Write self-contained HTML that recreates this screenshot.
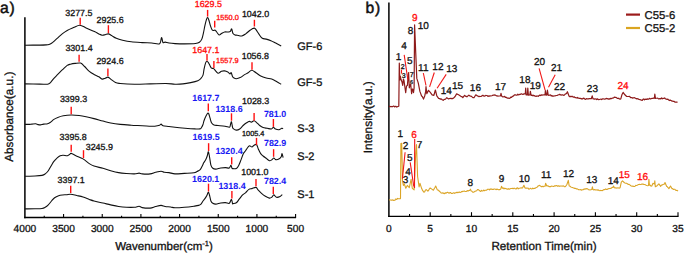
<!DOCTYPE html>
<html><head><meta charset="utf-8"><style>
html,body{margin:0;padding:0;background:#fff;}
svg{display:block;}
text{font-family:"Liberation Sans", sans-serif;text-rendering:geometricPrecision;}
</style></head><body>
<svg width="685" height="254" viewBox="0 0 685 254" font-family='"Liberation Sans", sans-serif' fill="#111" stroke="#111" stroke-width="0.3">
<line x1="24.9" y1="17.3" x2="24.9" y2="218.2" stroke="#000" stroke-width="1.5"/>
<line x1="24.2" y1="217.5" x2="296.09" y2="217.5" stroke="#000" stroke-width="1.4"/>
<line x1="44.23" y1="217.5" x2="44.23" y2="215.7" stroke="#000" stroke-width="1.1"/>
<line x1="63.57" y1="217.5" x2="63.57" y2="214.1" stroke="#000" stroke-width="1.1"/>
<line x1="82.91" y1="217.5" x2="82.91" y2="215.7" stroke="#000" stroke-width="1.1"/>
<line x1="102.24" y1="217.5" x2="102.24" y2="214.1" stroke="#000" stroke-width="1.1"/>
<line x1="121.58" y1="217.5" x2="121.58" y2="215.7" stroke="#000" stroke-width="1.1"/>
<line x1="140.91" y1="217.5" x2="140.91" y2="214.1" stroke="#000" stroke-width="1.1"/>
<line x1="160.25" y1="217.5" x2="160.25" y2="215.7" stroke="#000" stroke-width="1.1"/>
<line x1="179.58" y1="217.5" x2="179.58" y2="214.1" stroke="#000" stroke-width="1.1"/>
<line x1="198.92" y1="217.5" x2="198.92" y2="215.7" stroke="#000" stroke-width="1.1"/>
<line x1="218.25" y1="217.5" x2="218.25" y2="214.1" stroke="#000" stroke-width="1.1"/>
<line x1="237.59" y1="217.5" x2="237.59" y2="215.7" stroke="#000" stroke-width="1.1"/>
<line x1="256.92" y1="217.5" x2="256.92" y2="214.1" stroke="#000" stroke-width="1.1"/>
<line x1="276.25" y1="217.5" x2="276.25" y2="215.7" stroke="#000" stroke-width="1.1"/>
<line x1="295.59" y1="217.5" x2="295.59" y2="214.1" stroke="#000" stroke-width="1.1"/>
<text x="24.90" y="232" font-size="10.2" text-anchor="middle">4000</text>
<text x="63.57" y="232" font-size="10.2" text-anchor="middle">3500</text>
<text x="102.24" y="232" font-size="10.2" text-anchor="middle">3000</text>
<text x="140.91" y="232" font-size="10.2" text-anchor="middle">2500</text>
<text x="179.58" y="232" font-size="10.2" text-anchor="middle">2000</text>
<text x="218.25" y="232" font-size="10.2" text-anchor="middle">1500</text>
<text x="256.92" y="232" font-size="10.2" text-anchor="middle">1000</text>
<text x="295.59" y="232" font-size="10.2" text-anchor="middle">500</text>
<text x="164" y="250.1" font-size="11.5" text-anchor="middle">Wavenumber(cm<tspan font-size="7.5" dy="-3.8">-1</tspan><tspan dy="3.8">)</tspan></text>
<text transform="translate(12.9,116.75) rotate(-90)" font-size="11.75" text-anchor="middle">Absorbance(a.u.)</text>
<text x="0" y="13" font-size="15.7" stroke-width="0.5" letter-spacing="0.8">a)</text>
<path d="M25.00,45.20 C27.50,45.18 36.50,45.15 40.00,45.10 C43.50,45.05 44.50,45.00 46.00,44.90 C47.50,44.80 48.08,44.77 49.00,44.50 C49.92,44.23 50.58,43.92 51.50,43.30 C52.42,42.68 53.45,41.72 54.50,40.80 C55.55,39.88 56.47,39.00 57.80,37.80 C59.13,36.60 60.93,34.83 62.50,33.60 C64.07,32.37 65.37,31.40 67.20,30.40 C69.03,29.40 71.40,28.47 73.50,27.60 C75.60,26.73 77.70,25.15 79.80,25.20 C81.90,25.25 84.00,26.98 86.10,27.90 C88.20,28.82 90.92,30.05 92.40,30.70 C93.88,31.35 93.92,31.27 95.00,31.80 C96.08,32.33 97.72,33.33 98.90,33.90 C100.08,34.47 101.05,35.07 102.10,35.20 C103.15,35.33 104.15,34.92 105.20,34.70 C106.25,34.48 107.35,33.77 108.40,33.90 C109.45,34.03 110.18,34.77 111.50,35.50 C112.82,36.23 114.45,37.52 116.30,38.30 C118.15,39.08 120.12,39.62 122.60,40.20 C125.08,40.78 127.93,41.40 131.20,41.80 C134.47,42.20 138.78,42.40 142.20,42.60 C145.62,42.80 148.80,42.82 151.70,43.00 C154.60,43.18 157.97,44.62 159.60,43.70 C161.23,42.78 160.93,37.68 161.50,37.50 C162.07,37.32 162.40,41.83 163.00,42.60 C163.60,43.37 164.10,42.03 165.10,42.10 C166.10,42.17 167.35,42.75 169.00,43.00 C170.65,43.25 172.43,43.45 175.00,43.60 C177.57,43.75 180.98,43.92 184.40,43.90 C187.82,43.88 193.00,43.77 195.50,43.50 C198.00,43.23 198.35,43.03 199.40,42.30 C200.45,41.57 201.15,40.55 201.80,39.10 C202.45,37.65 202.78,35.83 203.30,33.60 C203.82,31.37 204.37,28.07 204.90,25.70 C205.43,23.33 206.05,20.75 206.50,19.40 C206.95,18.05 207.20,17.47 207.60,17.60 C208.00,17.73 208.43,18.85 208.90,20.20 C209.37,21.55 209.88,24.12 210.40,25.70 C210.92,27.28 211.47,28.90 212.00,29.70 C212.53,30.50 213.07,30.42 213.60,30.50 C214.13,30.58 214.68,29.95 215.20,30.20 C215.72,30.45 216.05,31.22 216.70,32.00 C217.35,32.78 218.30,34.63 219.10,34.90 C219.90,35.17 220.58,34.08 221.50,33.60 C222.42,33.12 223.43,32.27 224.60,32.00 C225.77,31.73 227.53,32.12 228.50,32.00 C229.47,31.88 229.87,31.82 230.40,31.30 C230.93,30.78 231.27,28.52 231.70,28.90 C232.13,29.28 232.45,32.60 233.00,33.60 C233.55,34.60 234.32,34.63 235.00,34.90 C235.68,35.17 235.97,35.02 237.10,35.20 C238.23,35.38 240.37,36.22 241.80,36.00 C243.23,35.78 244.38,34.82 245.70,33.90 C247.02,32.98 248.65,31.33 249.70,30.50 C250.75,29.67 251.22,29.30 252.00,28.90 C252.78,28.50 253.73,27.97 254.40,28.10 C255.07,28.23 255.22,28.65 256.00,29.70 C256.78,30.75 258.05,32.97 259.10,34.40 C260.15,35.83 261.12,37.52 262.30,38.30 C263.48,39.08 264.77,38.70 266.20,39.10 C267.63,39.50 269.32,40.03 270.90,40.70 C272.48,41.37 273.98,42.23 275.70,43.10 C277.42,43.97 280.28,45.43 281.20,45.90" fill="none" stroke="#111" stroke-width="1.1" stroke-linejoin="round"/>
<path d="M25.00,83.90 C27.50,83.93 36.23,84.05 40.00,84.10 C43.77,84.15 45.82,84.50 47.60,84.20 C49.38,83.90 49.65,83.28 50.70,82.30 C51.75,81.32 52.72,79.62 53.90,78.30 C55.08,76.98 56.37,75.83 57.80,74.40 C59.23,72.97 60.93,71.20 62.50,69.70 C64.07,68.20 65.88,66.32 67.20,65.40 C68.52,64.48 69.08,64.53 70.40,64.20 C71.72,63.87 73.40,63.58 75.10,63.40 C76.80,63.22 79.02,62.58 80.60,63.10 C82.18,63.62 83.15,65.13 84.60,66.50 C86.05,67.87 87.73,69.98 89.30,71.30 C90.87,72.62 92.40,73.48 94.00,74.40 C95.60,75.32 97.55,76.02 98.90,76.80 C100.25,77.58 101.05,78.85 102.10,79.10 C103.15,79.35 104.23,78.63 105.20,78.30 C106.17,77.97 106.98,76.97 107.90,77.10 C108.82,77.23 109.43,78.18 110.70,79.10 C111.97,80.02 113.92,81.87 115.50,82.60 C117.08,83.33 117.05,83.23 120.20,83.50 C123.35,83.77 129.42,84.13 134.40,84.20 C139.38,84.27 144.85,84.02 150.10,83.90 C155.35,83.78 161.75,83.45 165.90,83.50 C170.05,83.55 172.17,84.13 175.00,84.20 C177.83,84.27 180.28,84.17 182.90,83.90 C185.52,83.63 188.22,83.13 190.70,82.60 C193.18,82.07 196.08,81.42 197.80,80.70 C199.52,79.98 200.13,79.22 201.00,78.30 C201.87,77.38 202.48,76.77 203.00,75.20 C203.52,73.63 203.65,71.00 204.10,68.90 C204.55,66.80 205.22,63.87 205.70,62.60 C206.18,61.33 206.55,61.30 207.00,61.30 C207.45,61.30 207.90,61.87 208.40,62.60 C208.90,63.33 209.48,64.78 210.00,65.70 C210.52,66.62 210.90,67.62 211.50,68.10 C212.10,68.58 212.85,68.07 213.60,68.60 C214.35,69.13 215.22,70.52 216.00,71.30 C216.78,72.08 217.38,73.30 218.30,73.30 C219.22,73.30 220.45,71.70 221.50,71.30 C222.55,70.90 223.55,70.78 224.60,70.90 C225.65,71.02 226.88,71.50 227.80,72.00 C228.72,72.50 229.53,73.80 230.10,73.90 C230.67,74.00 230.80,72.17 231.20,72.60 C231.60,73.03 232.03,75.60 232.50,76.50 C232.97,77.40 233.37,77.63 234.00,78.00 C234.63,78.37 235.27,78.77 236.30,78.70 C237.33,78.63 238.88,78.23 240.20,77.60 C241.52,76.97 242.88,75.70 244.20,74.90 C245.52,74.10 246.85,73.58 248.10,72.80 C249.35,72.02 250.38,70.20 251.70,70.20 C253.02,70.20 254.50,71.83 256.00,72.80 C257.50,73.77 259.00,75.13 260.70,76.00 C262.40,76.87 264.37,77.48 266.20,78.00 C268.03,78.52 269.98,78.52 271.70,79.10 C273.42,79.68 274.92,80.63 276.50,81.50 C278.08,82.37 280.42,83.83 281.20,84.30" fill="none" stroke="#111" stroke-width="1.1" stroke-linejoin="round"/>
<path d="M25.00,124.40 C25.73,124.40 28.23,124.45 29.40,124.40 C30.57,124.35 30.95,124.20 32.00,124.10 C33.05,124.00 34.70,123.72 35.70,123.80 C36.70,123.88 37.20,124.42 38.00,124.60 C38.80,124.78 39.57,124.98 40.50,124.90 C41.43,124.82 42.42,124.28 43.60,124.10 C44.78,123.92 46.42,124.13 47.60,123.80 C48.78,123.47 49.65,122.83 50.70,122.10 C51.75,121.37 52.72,120.18 53.90,119.40 C55.08,118.62 56.23,118.00 57.80,117.40 C59.37,116.80 61.07,116.20 63.30,115.80 C65.53,115.40 68.57,115.05 71.20,115.00 C73.83,114.95 76.62,115.22 79.10,115.50 C81.58,115.78 83.62,116.18 86.10,116.70 C88.58,117.22 91.20,117.88 94.00,118.60 C96.80,119.32 100.12,120.27 102.90,121.00 C105.68,121.73 107.82,122.43 110.70,123.00 C113.58,123.57 116.78,124.03 120.20,124.40 C123.62,124.77 127.53,124.98 131.20,125.20 C134.87,125.42 138.92,125.53 142.20,125.70 C145.48,125.87 148.80,126.12 150.90,126.20 C153.00,126.28 153.35,126.37 154.80,126.20 C156.25,126.03 158.55,125.55 159.60,125.20 C160.65,124.85 160.53,124.02 161.10,124.10 C161.67,124.18 161.68,125.30 163.00,125.70 C164.32,126.10 167.00,126.23 169.00,126.50 C171.00,126.77 172.33,127.02 175.00,127.30 C177.67,127.58 181.67,127.93 185.00,128.20 C188.33,128.47 192.50,128.78 195.00,128.90 C197.50,129.02 198.92,129.13 200.00,128.90 C201.08,128.67 201.00,128.23 201.50,127.50 C202.00,126.77 202.58,125.63 203.00,124.50 C203.42,123.37 203.50,122.12 204.00,120.70 C204.50,119.28 205.33,117.27 206.00,116.00 C206.67,114.73 207.50,113.35 208.00,113.10 C208.50,112.85 208.67,113.70 209.00,114.50 C209.33,115.30 209.58,116.53 210.00,117.90 C210.42,119.27 210.83,121.50 211.50,122.70 C212.17,123.90 212.92,124.63 214.00,125.10 C215.08,125.57 216.17,125.32 218.00,125.50 C219.83,125.68 223.08,125.92 225.00,126.20 C226.92,126.48 228.58,127.48 229.50,127.20 C230.42,126.92 230.18,125.42 230.50,124.50 C230.82,123.58 231.10,121.45 231.40,121.70 C231.70,121.95 232.03,124.90 232.30,126.00 C232.57,127.10 232.35,127.62 233.00,128.30 C233.65,128.98 235.08,129.98 236.20,130.10 C237.32,130.22 238.55,129.77 239.70,129.00 C240.85,128.23 241.95,126.53 243.10,125.50 C244.25,124.47 245.57,123.48 246.60,122.80 C247.63,122.12 248.50,121.52 249.30,121.40 C250.10,121.28 250.60,122.22 251.40,122.10 C252.20,121.98 253.18,120.58 254.10,120.70 C255.02,120.82 255.97,122.00 256.90,122.80 C257.83,123.60 258.67,124.70 259.70,125.50 C260.73,126.30 261.85,127.13 263.10,127.60 C264.35,128.07 265.82,128.07 267.20,128.30 C268.58,128.53 270.37,129.17 271.40,129.00 C272.43,128.83 272.72,127.30 273.40,127.30 C274.08,127.30 274.57,128.60 275.50,129.00 C276.43,129.40 277.97,129.82 279.00,129.70 C280.03,129.58 281.02,128.47 281.70,128.30 C282.38,128.13 282.87,128.63 283.10,128.70" fill="none" stroke="#111" stroke-width="1.1" stroke-linejoin="round"/>
<path d="M25.00,176.20 C26.67,176.17 32.17,176.13 35.00,176.00 C37.83,175.87 40.30,175.75 42.00,175.40 C43.70,175.05 44.15,174.68 45.20,173.90 C46.25,173.12 47.25,172.15 48.30,170.70 C49.35,169.25 50.57,166.77 51.50,165.20 C52.43,163.63 52.98,162.48 53.90,161.30 C54.82,160.12 55.95,159.03 57.00,158.10 C58.05,157.17 59.15,156.17 60.20,155.70 C61.25,155.23 62.13,155.30 63.30,155.30 C64.47,155.30 66.17,155.83 67.20,155.70 C68.23,155.57 68.83,154.88 69.50,154.50 C70.17,154.12 70.13,153.20 71.20,153.40 C72.27,153.60 73.93,154.78 75.90,155.70 C77.87,156.62 80.77,157.58 83.00,158.90 C85.23,160.22 87.47,162.42 89.30,163.60 C91.13,164.78 91.73,165.22 94.00,166.00 C96.27,166.78 100.12,167.52 102.90,168.30 C105.68,169.08 108.08,169.98 110.70,170.70 C113.32,171.42 115.97,172.13 118.60,172.60 C121.23,173.07 123.87,173.28 126.50,173.50 C129.13,173.72 132.30,173.97 134.40,173.90 C136.50,173.83 137.80,173.10 139.10,173.10 C140.40,173.10 140.37,173.77 142.20,173.90 C144.03,174.03 147.87,174.17 150.10,173.90 C152.33,173.63 153.77,172.75 155.60,172.30 C157.43,171.85 159.65,171.20 161.10,171.20 C162.55,171.20 162.98,172.07 164.30,172.30 C165.62,172.53 167.22,172.33 169.00,172.60 C170.78,172.87 172.43,173.77 175.00,173.90 C177.57,174.03 181.25,173.58 184.40,173.40 C187.55,173.22 191.80,173.12 193.90,172.80 C196.00,172.48 195.95,172.03 197.00,171.50 C198.05,170.97 199.27,170.65 200.20,169.60 C201.13,168.55 202.02,166.33 202.60,165.20 C203.18,164.07 203.18,163.72 203.70,162.80 C204.22,161.88 205.10,160.88 205.70,159.70 C206.30,158.52 206.85,157.02 207.30,155.70 C207.75,154.38 208.02,151.53 208.40,151.80 C208.78,152.07 209.18,155.07 209.60,157.30 C210.02,159.53 210.37,163.37 210.90,165.20 C211.43,167.03 211.97,167.65 212.80,168.30 C213.63,168.95 214.58,169.15 215.90,169.10 C217.22,169.05 219.12,168.25 220.70,168.00 C222.28,167.75 223.97,167.60 225.40,167.60 C226.83,167.60 228.38,168.40 229.30,168.00 C230.22,167.60 230.45,165.15 230.90,165.20 C231.35,165.25 231.63,167.73 232.00,168.30 C232.37,168.87 232.38,168.55 233.10,168.60 C233.82,168.65 235.37,169.13 236.30,168.60 C237.23,168.07 237.92,166.85 238.70,165.40 C239.48,163.95 240.22,161.87 241.00,159.90 C241.78,157.93 242.62,155.17 243.40,153.60 C244.18,152.03 244.92,151.60 245.70,150.50 C246.48,149.40 247.43,147.80 248.10,147.00 C248.77,146.20 249.05,145.70 249.70,145.70 C250.35,145.70 251.30,147.05 252.00,147.00 C252.70,146.95 253.15,145.82 253.90,145.40 C254.65,144.98 255.77,143.92 256.50,144.50 C257.23,145.08 257.60,147.38 258.30,148.90 C259.00,150.42 259.90,152.42 260.70,153.60 C261.50,154.78 262.18,155.22 263.10,156.00 C264.02,156.78 265.15,157.52 266.20,158.30 C267.25,159.08 268.48,160.43 269.40,160.70 C270.32,160.97 270.97,160.35 271.70,159.90 C272.43,159.45 273.13,158.05 273.80,158.00 C274.47,157.95 274.87,159.42 275.70,159.60 C276.53,159.78 277.88,159.57 278.80,159.10 C279.72,158.63 280.67,157.72 281.20,156.80 C281.73,155.88 281.68,153.47 282.00,153.60 C282.32,153.73 282.92,156.93 283.10,157.60" fill="none" stroke="#111" stroke-width="1.1" stroke-linejoin="round"/>
<path d="M25.00,208.90 C26.67,208.88 32.17,208.87 35.00,208.80 C37.83,208.73 40.30,208.75 42.00,208.50 C43.70,208.25 44.15,207.90 45.20,207.30 C46.25,206.70 47.25,205.95 48.30,204.90 C49.35,203.85 50.45,202.18 51.50,201.00 C52.55,199.82 53.42,198.67 54.60,197.80 C55.78,196.93 57.28,196.27 58.60,195.80 C59.92,195.33 61.18,195.18 62.50,195.00 C63.82,194.82 65.13,194.83 66.50,194.70 C67.87,194.57 69.00,194.07 70.70,194.20 C72.40,194.33 74.65,195.03 76.70,195.50 C78.75,195.97 80.90,196.35 83.00,197.00 C85.10,197.65 87.47,198.73 89.30,199.40 C91.13,200.07 91.73,200.40 94.00,201.00 C96.27,201.60 100.12,202.35 102.90,203.00 C105.68,203.65 108.08,204.32 110.70,204.90 C113.32,205.48 115.97,206.10 118.60,206.50 C121.23,206.90 123.87,207.17 126.50,207.30 C129.13,207.43 132.30,207.48 134.40,207.30 C136.50,207.12 137.80,206.15 139.10,206.20 C140.40,206.25 140.37,207.28 142.20,207.60 C144.03,207.92 147.87,208.28 150.10,208.10 C152.33,207.92 153.77,206.95 155.60,206.50 C157.43,206.05 159.52,205.40 161.10,205.40 C162.68,205.40 163.52,206.23 165.10,206.50 C166.68,206.77 168.95,206.78 170.60,207.00 C172.25,207.22 172.70,207.75 175.00,207.80 C177.30,207.85 181.25,207.57 184.40,207.30 C187.55,207.03 191.53,206.52 193.90,206.20 C196.27,205.88 197.42,205.75 198.60,205.40 C199.78,205.05 200.27,204.83 201.00,204.10 C201.73,203.37 202.35,201.92 203.00,201.00 C203.65,200.08 204.23,199.57 204.90,198.60 C205.57,197.63 206.42,196.30 207.00,195.20 C207.58,194.10 207.97,191.95 208.40,192.00 C208.83,192.05 209.18,194.00 209.60,195.50 C210.02,197.00 210.37,199.70 210.90,201.00 C211.43,202.30 211.97,202.78 212.80,203.30 C213.63,203.82 214.58,204.15 215.90,204.10 C217.22,204.05 219.12,203.25 220.70,203.00 C222.28,202.75 223.97,202.55 225.40,202.60 C226.83,202.65 228.30,203.87 229.30,203.30 C230.30,202.73 230.87,199.17 231.40,199.20 C231.93,199.23 232.22,202.77 232.50,203.50 C232.78,204.23 232.47,203.72 233.10,203.60 C233.73,203.48 235.25,203.58 236.30,202.80 C237.35,202.02 238.35,200.22 239.40,198.90 C240.45,197.58 241.55,195.95 242.60,194.90 C243.65,193.85 244.65,193.52 245.70,192.60 C246.75,191.68 247.85,190.07 248.90,189.40 C249.95,188.73 250.82,188.93 252.00,188.60 C253.18,188.27 254.95,187.13 256.00,187.40 C257.05,187.67 257.38,189.22 258.30,190.20 C259.22,191.18 260.32,192.30 261.50,193.30 C262.68,194.30 264.08,195.40 265.40,196.20 C266.72,197.00 268.35,197.92 269.40,198.10 C270.45,198.28 270.97,197.83 271.70,197.30 C272.43,196.77 273.00,194.90 273.80,194.90 C274.60,194.90 275.45,197.03 276.50,197.30 C277.55,197.57 279.13,196.95 280.10,196.50 C281.07,196.05 281.93,194.92 282.30,194.60" fill="none" stroke="#111" stroke-width="1.1" stroke-linejoin="round"/>
<line x1="80.2" y1="17.8" x2="80.2" y2="24.8" stroke="#ff1010" stroke-width="1.4"/>
<line x1="108.4" y1="25.2" x2="108.4" y2="33.1" stroke="#ff1010" stroke-width="1.4"/>
<line x1="207.6" y1="9.9" x2="207.6" y2="16.6" stroke="#ff1010" stroke-width="1.4"/>
<line x1="214.7" y1="20.7" x2="214.7" y2="27.6" stroke="#ff1010" stroke-width="1.4"/>
<line x1="254.4" y1="19.8" x2="254.4" y2="26.5" stroke="#ff1010" stroke-width="1.4"/>
<line x1="79.1" y1="54.7" x2="79.1" y2="61.8" stroke="#ff1010" stroke-width="1.4"/>
<line x1="107.9" y1="68.6" x2="107.9" y2="76" stroke="#ff1010" stroke-width="1.4"/>
<line x1="207" y1="53.9" x2="207" y2="60.7" stroke="#ff1010" stroke-width="1.4"/>
<line x1="213.9" y1="61" x2="213.9" y2="68.1" stroke="#ff1010" stroke-width="1.4"/>
<line x1="252" y1="62.3" x2="252" y2="69.7" stroke="#ff1010" stroke-width="1.4"/>
<line x1="71.2" y1="106.8" x2="71.2" y2="114.2" stroke="#ff1010" stroke-width="1.4"/>
<line x1="208.3" y1="103.6" x2="208.3" y2="111.2" stroke="#ff1010" stroke-width="1.4"/>
<line x1="231.5" y1="113.3" x2="231.5" y2="120.7" stroke="#ff1010" stroke-width="1.4"/>
<line x1="254.1" y1="113.1" x2="254.1" y2="120.7" stroke="#ff1010" stroke-width="1.4"/>
<line x1="273.4" y1="119" x2="273.4" y2="126.9" stroke="#ff1010" stroke-width="1.4"/>
<line x1="71.2" y1="144.7" x2="71.2" y2="151.8" stroke="#ff1010" stroke-width="1.4"/>
<line x1="83.5" y1="150.2" x2="83.5" y2="158.1" stroke="#ff1010" stroke-width="1.4"/>
<line x1="208.6" y1="143.2" x2="208.6" y2="151" stroke="#ff1010" stroke-width="1.4"/>
<line x1="256.5" y1="137.9" x2="256.5" y2="145" stroke="#ff1010" stroke-width="1.4"/>
<line x1="273.6" y1="149.2" x2="273.6" y2="156.8" stroke="#ff1010" stroke-width="1.4"/>
<line x1="231.7" y1="157.3" x2="231.7" y2="164.4" stroke="#ff1010" stroke-width="1.4"/>
<line x1="70.7" y1="185.7" x2="70.7" y2="193.1" stroke="#ff1010" stroke-width="1.4"/>
<line x1="208.5" y1="183.7" x2="208.5" y2="191.5" stroke="#ff1010" stroke-width="1.4"/>
<line x1="231.9" y1="191" x2="231.9" y2="198.4" stroke="#ff1010" stroke-width="1.4"/>
<line x1="256" y1="178.9" x2="256" y2="186.3" stroke="#ff1010" stroke-width="1.4"/>
<line x1="273.3" y1="186.7" x2="273.3" y2="194.1" stroke="#ff1010" stroke-width="1.4"/>
<text x="78.9" y="15.6" font-size="8.9" fill="#111" stroke="#111" stroke-width="0.3" text-anchor="middle">3277.5</text>
<text x="110.1" y="22.9" font-size="8.9" fill="#111" stroke="#111" stroke-width="0.3" text-anchor="middle">2925.6</text>
<text x="208.3" y="6.9" font-size="8.9" fill="#ff0a0a" stroke="#ff0a0a" stroke-width="0.3" text-anchor="middle">1629.5</text>
<text x="227.5" y="20.1" font-size="7.4" fill="#ff0a0a" stroke="#ff0a0a" stroke-width="0.3" text-anchor="middle">1550.0</text>
<text x="255.5" y="16.6" font-size="8.9" fill="#111" stroke="#111" stroke-width="0.3" text-anchor="middle">1042.0</text>
<text x="79" y="50.9" font-size="8.9" fill="#111" stroke="#111" stroke-width="0.3" text-anchor="middle">3301.4</text>
<text x="110" y="63.9" font-size="8.9" fill="#111" stroke="#111" stroke-width="0.3" text-anchor="middle">2924.6</text>
<text x="205.9" y="52.5" font-size="8.9" fill="#ff0a0a" stroke="#ff0a0a" stroke-width="0.3" text-anchor="middle">1647.1</text>
<text x="227.4" y="63" font-size="7.4" fill="#ff0a0a" stroke="#ff0a0a" stroke-width="0.3" text-anchor="middle">1557.9</text>
<text x="255.3" y="58.9" font-size="8.9" fill="#111" stroke="#111" stroke-width="0.3" text-anchor="middle">1056.8</text>
<text x="73.5" y="102.1" font-size="8.9" fill="#111" stroke="#111" stroke-width="0.3" text-anchor="middle">3399.3</text>
<text x="205.9" y="101.2" font-size="8.9" fill="#1818f4" stroke="#1818f4" stroke-width="0.05" font-weight="bold" text-anchor="middle">1617.7</text>
<text x="229" y="111.8" font-size="8.9" fill="#1818f4" stroke="#1818f4" stroke-width="0.05" font-weight="bold" text-anchor="middle">1318.6</text>
<text x="255.6" y="103.8" font-size="8.9" fill="#111" stroke="#111" stroke-width="0.3" text-anchor="middle">1028.3</text>
<text x="275" y="116.8" font-size="8.9" fill="#1818f4" stroke="#1818f4" stroke-width="0.05" font-weight="bold" text-anchor="middle">781.0</text>
<text x="73.2" y="139.7" font-size="8.9" fill="#111" stroke="#111" stroke-width="0.3" text-anchor="middle">3395.8</text>
<text x="99.3" y="149.8" font-size="8.9" fill="#111" stroke="#111" stroke-width="0.3" text-anchor="middle">3245.9</text>
<text x="206.1" y="139.7" font-size="8.9" fill="#1818f4" stroke="#1818f4" stroke-width="0.05" font-weight="bold" text-anchor="middle">1619.5</text>
<text x="253.2" y="135.5" font-size="7.3" fill="#111" stroke="#111" stroke-width="0.3" text-anchor="middle">1005.4</text>
<text x="275.1" y="146.1" font-size="8.9" fill="#1818f4" stroke="#1818f4" stroke-width="0.05" font-weight="bold" text-anchor="middle">782.9</text>
<text x="229" y="154.2" font-size="8.9" fill="#1818f4" stroke="#1818f4" stroke-width="0.05" font-weight="bold" text-anchor="middle">1320.4</text>
<text x="71.2" y="182.9" font-size="8.9" fill="#111" stroke="#111" stroke-width="0.3" text-anchor="middle">3397.1</text>
<text x="205.7" y="182.1" font-size="8.9" fill="#1818f4" stroke="#1818f4" stroke-width="0.05" font-weight="bold" text-anchor="middle">1620.1</text>
<text x="232" y="189.4" font-size="8.9" fill="#1818f4" stroke="#1818f4" stroke-width="0.05" font-weight="bold" text-anchor="middle">1318.4</text>
<text x="254.8" y="174.8" font-size="8.9" fill="#111" stroke="#111" stroke-width="0.3" text-anchor="middle">1001.0</text>
<text x="275.1" y="183.9" font-size="8.9" fill="#1818f4" stroke="#1818f4" stroke-width="0.05" font-weight="bold" text-anchor="middle">782.4</text>
<text x="297.3" y="49.6" font-size="11">GF-6</text>
<text x="297.3" y="86" font-size="11">GF-5</text>
<text x="297.3" y="131.8" font-size="11">S-3</text>
<text x="297.3" y="160.2" font-size="11">S-2</text>
<text x="297.3" y="198.4" font-size="11">S-1</text>
<line x1="388.9" y1="2.5" x2="388.9" y2="217.1" stroke="#000" stroke-width="1.5"/>
<line x1="388.2" y1="216.4" x2="678.5" y2="216.4" stroke="#000" stroke-width="1.4"/>
<line x1="409.55" y1="216.4" x2="409.55" y2="214.0" stroke="#000" stroke-width="1.1"/>
<line x1="430.20" y1="216.4" x2="430.20" y2="212.20000000000002" stroke="#000" stroke-width="1.1"/>
<line x1="450.85" y1="216.4" x2="450.85" y2="214.0" stroke="#000" stroke-width="1.1"/>
<line x1="471.50" y1="216.4" x2="471.50" y2="212.20000000000002" stroke="#000" stroke-width="1.1"/>
<line x1="492.15" y1="216.4" x2="492.15" y2="214.0" stroke="#000" stroke-width="1.1"/>
<line x1="512.80" y1="216.4" x2="512.80" y2="212.20000000000002" stroke="#000" stroke-width="1.1"/>
<line x1="533.45" y1="216.4" x2="533.45" y2="214.0" stroke="#000" stroke-width="1.1"/>
<line x1="554.10" y1="216.4" x2="554.10" y2="212.20000000000002" stroke="#000" stroke-width="1.1"/>
<line x1="574.75" y1="216.4" x2="574.75" y2="214.0" stroke="#000" stroke-width="1.1"/>
<line x1="595.40" y1="216.4" x2="595.40" y2="212.20000000000002" stroke="#000" stroke-width="1.1"/>
<line x1="616.05" y1="216.4" x2="616.05" y2="214.0" stroke="#000" stroke-width="1.1"/>
<line x1="636.70" y1="216.4" x2="636.70" y2="212.20000000000002" stroke="#000" stroke-width="1.1"/>
<line x1="657.35" y1="216.4" x2="657.35" y2="214.0" stroke="#000" stroke-width="1.1"/>
<line x1="678.00" y1="216.4" x2="678.00" y2="212.20000000000002" stroke="#000" stroke-width="1.1"/>
<text x="388.90" y="232" font-size="10.2" text-anchor="middle">0</text>
<text x="430.20" y="232" font-size="10.2" text-anchor="middle">5</text>
<text x="471.50" y="232" font-size="10.2" text-anchor="middle">10</text>
<text x="512.80" y="232" font-size="10.2" text-anchor="middle">15</text>
<text x="554.10" y="232" font-size="10.2" text-anchor="middle">20</text>
<text x="595.40" y="232" font-size="10.2" text-anchor="middle">25</text>
<text x="636.70" y="232" font-size="10.2" text-anchor="middle">30</text>
<text x="678.00" y="232" font-size="10.2" text-anchor="middle">35</text>
<text x="544" y="250.3" font-size="11.7" text-anchor="middle">Retention Time(min)</text>
<text transform="translate(372.2,117.2) rotate(-90)" font-size="11.9" text-anchor="middle">Intensity(a.u.)</text>
<text x="365.5" y="13.2" font-size="15.7" stroke-width="0.5" letter-spacing="0.8">b)</text>
<line x1="626" y1="14.6" x2="640" y2="14.6" stroke="#9b1b1b" stroke-width="2.2"/>
<line x1="626" y1="28" x2="640" y2="28" stroke="#daa520" stroke-width="2.2"/>
<text x="644.5" y="18.7" font-size="11.3">C55-6</text>
<text x="644.5" y="32.1" font-size="11.3">C55-2</text>
<path d="M389.00,106.60 L389.71,106.31 L390.42,106.65 L391.12,106.46 L391.83,106.71 L392.54,106.74 L393.25,106.12 L393.96,106.06 L394.67,106.97 L395.38,106.34 L396.08,106.31 L396.79,107.15 L397.50,106.60 L398.80,106.20 L399.30,63.00 L399.80,80.00 L400.30,76.00 L401.00,79.60 L402.00,82.00 L402.70,85.50 L403.40,79.00 L404.00,80.70 L405.00,88.00 L405.70,92.60 L406.50,86.00 L407.40,85.50 L408.20,75.00 L408.60,72.50 L409.30,87.80 L410.00,85.00 L410.70,84.30 L411.60,93.70 L412.30,89.00 L412.80,89.00 L413.50,92.60 L414.10,88.00 L414.60,24.80 L415.60,50.00 L416.80,78.40 L418.30,83.10 L419.90,91.40 L421.60,96.00 L422.30,96.50 L423.50,99.10 L424.70,96.00 L425.60,92.00 L426.00,86.50 L426.80,93.60 L428.50,90.40 L430.30,92.40 L432.10,94.80 L433.90,95.30 L434.80,92.00 L435.40,90.00 L436.80,95.90 L438.60,98.30 L439.37,98.47 L440.13,99.07 L440.90,98.90 L441.70,99.34 L442.50,99.99 L443.30,100.30 L444.10,99.45 L444.90,99.52 L445.70,98.90 L446.80,97.70 L448.60,98.90 L450.40,98.30 L451.12,98.70 L451.85,98.33 L452.57,98.57 L453.30,98.30 L455.10,96.50 L456.60,93.90 L458.60,94.80 L460.40,95.90 L461.20,96.69 L462.00,96.62 L462.80,97.70 L464.60,95.30 L465.37,96.08 L466.13,96.40 L466.90,96.80 L467.70,96.08 L468.50,95.28 L469.30,95.30 L470.07,96.10 L470.83,96.07 L471.60,96.50 L472.40,97.14 L473.20,97.72 L474.00,97.70 L475.80,94.80 L477.50,95.90 L478.25,96.29 L479.00,96.66 L479.75,96.23 L480.50,96.50 L481.30,96.43 L482.10,95.64 L482.90,95.30 L483.60,95.98 L484.30,96.12 L485.00,95.90 L485.74,95.47 L486.48,95.52 L487.21,95.63 L487.95,96.46 L488.69,95.89 L489.42,96.11 L490.16,95.77 L490.90,96.00 L491.68,95.79 L492.46,95.43 L493.24,95.18 L494.02,95.21 L494.80,94.90 L495.58,95.21 L496.36,95.78 L497.14,95.76 L497.92,96.25 L498.70,96.00 L500.50,96.00 L501.00,93.30 L501.60,96.00 L502.33,96.58 L503.07,96.91 L503.80,96.74 L504.53,96.36 L505.27,97.31 L506.00,97.10 L506.80,97.91 L507.60,98.15 L508.40,98.08 L509.20,98.30 L509.97,98.09 L510.75,97.08 L511.52,97.31 L512.30,96.50 L513.10,96.18 L513.90,95.46 L514.70,94.82 L515.50,94.90 L516.28,95.21 L517.07,95.27 L517.85,94.20 L518.63,94.90 L519.42,94.38 L520.20,94.40 L520.98,93.90 L521.76,93.93 L522.54,94.34 L523.32,94.33 L524.10,93.80 L525.30,94.00 L525.70,88.10 L526.20,94.90 L527.40,94.80 L527.80,88.10 L528.40,95.20 L529.80,95.00 L530.40,91.30 L531.10,95.50 L531.81,95.05 L532.52,95.74 L533.23,95.17 L533.94,95.96 L534.66,95.59 L535.37,96.25 L536.08,96.42 L536.79,95.95 L537.50,96.00 L538.28,96.42 L539.07,95.52 L539.85,95.13 L540.63,95.58 L541.42,94.82 L542.20,95.20 L543.13,94.80 L544.07,94.97 L545.00,95.00 L545.40,90.50 L546.20,95.20 L547.00,95.00 L547.40,90.20 L548.20,95.20 L548.93,95.41 L549.67,95.00 L550.40,94.96 L551.13,95.96 L551.87,95.44 L552.60,96.24 L553.33,96.26 L554.07,95.78 L554.80,96.00 L555.60,95.69 L556.40,95.49 L557.20,95.36 L558.00,95.04 L558.80,94.73 L559.60,94.40 L560.38,94.67 L561.17,95.15 L561.95,94.81 L562.73,94.86 L563.52,95.31 L564.30,95.20 L565.03,94.34 L565.77,93.85 L566.50,93.50 L567.40,91.70 L569.00,96.00 L569.77,96.71 L570.53,96.40 L571.30,96.62 L572.07,96.22 L572.83,96.85 L573.60,97.22 L574.37,96.79 L575.13,97.64 L575.90,97.70 L576.64,97.97 L577.38,97.47 L578.11,98.22 L578.85,98.16 L579.59,98.52 L580.32,98.29 L581.06,98.80 L581.80,98.70 L582.54,98.99 L583.27,98.22 L584.01,98.29 L584.75,98.99 L585.49,99.33 L586.23,98.58 L586.96,98.83 L587.70,98.90 L588.42,98.96 L589.14,98.62 L589.86,98.63 L590.58,98.53 L591.30,98.70 L592.20,95.90 L593.00,98.90 L593.72,98.82 L594.44,99.14 L595.17,98.88 L595.89,99.03 L596.61,99.53 L597.33,98.78 L598.06,99.44 L598.78,99.69 L599.50,99.50 L600.24,99.22 L600.98,99.04 L601.71,99.61 L602.45,98.91 L603.19,98.78 L603.92,98.98 L604.66,99.19 L605.40,98.90 L606.14,98.44 L606.88,98.65 L607.61,98.64 L608.35,99.17 L609.09,98.71 L609.82,99.14 L610.56,98.36 L611.30,98.70 L612.05,98.12 L612.80,98.07 L613.55,97.92 L614.30,97.10 L615.02,97.35 L615.75,97.40 L616.48,97.58 L617.20,98.30 L617.92,98.45 L618.64,98.20 L619.36,99.00 L620.08,99.15 L620.80,98.90 L621.90,94.80 L623.10,92.40 L624.90,94.80 L626.70,96.50 L628.50,96.50 L629.22,96.39 L629.94,96.74 L630.66,97.56 L631.38,97.62 L632.10,97.70 L632.80,98.16 L633.50,97.77 L634.20,97.65 L634.90,97.95 L635.60,98.30 L636.32,98.86 L637.04,98.53 L637.76,98.85 L638.48,99.17 L639.20,99.50 L639.97,99.61 L640.73,99.80 L641.50,100.10 L642.22,100.36 L642.94,99.32 L643.66,98.96 L644.38,99.79 L645.10,99.10 L645.81,99.44 L646.52,99.48 L647.23,98.79 L647.94,99.28 L648.65,99.17 L649.36,98.31 L650.07,98.81 L650.78,98.83 L651.49,98.56 L652.20,98.30 L652.93,98.32 L653.67,98.07 L654.40,98.30 L654.80,94.20 L655.50,98.30 L656.24,98.25 L656.98,98.24 L657.72,98.18 L658.46,98.88 L659.20,98.90 L659.97,98.52 L660.74,98.96 L661.51,97.97 L662.29,98.77 L663.06,98.40 L663.83,98.51 L664.60,97.90 L665.42,98.78 L666.24,99.22 L667.06,99.30 L667.88,99.12 L668.70,100.10 L669.48,100.57 L670.27,100.14 L671.05,100.48 L671.83,101.08 L672.62,101.13 L673.40,101.30 L674.22,101.43 L675.04,102.22 L675.86,102.08 L676.68,102.01 L677.50,102.40" fill="none" stroke="#8e1b1b" stroke-width="1.2" stroke-linejoin="round"/>
<path d="M389.00,199.80 L389.80,199.94 L390.60,200.07 L391.40,200.12 L392.20,200.29 L393.00,199.80 L393.50,200.50 L395.00,200.30 L395.30,199.00 L396.04,199.22 L396.78,199.38 L397.52,198.36 L398.26,198.80 L399.00,198.80 L400.50,198.60 L400.90,143.50 L401.70,143.20 L402.20,165.00 L402.50,181.00 L403.40,185.40 L404.30,183.90 L405.80,188.30 L407.30,185.40 L409.30,187.70 L410.50,182.00 L411.10,179.40 L412.30,188.30 L414.10,189.80 L415.80,151.00 L416.50,144.60 L417.60,176.50 L419.10,186.90 L420.00,183.30 L421.60,188.30 L422.37,190.12 L423.13,191.13 L423.90,192.30 L424.70,191.84 L425.50,190.07 L426.30,189.60 L427.90,191.20 L428.67,190.10 L429.43,188.79 L430.20,188.00 L431.80,189.10 L433.40,190.20 L434.17,188.85 L434.93,187.48 L435.70,186.00 L437.30,189.90 L438.10,189.96 L438.90,190.79 L439.70,191.46 L440.50,192.30 L441.27,193.03 L442.05,193.14 L442.83,192.75 L443.60,193.40 L444.38,193.63 L445.17,192.80 L445.95,193.23 L446.73,192.59 L447.52,192.35 L448.30,192.80 L449.10,193.26 L449.90,192.58 L450.70,192.64 L451.50,193.53 L452.30,193.46 L453.10,193.10 L453.89,192.73 L454.68,193.33 L455.46,192.73 L456.25,192.75 L457.04,192.09 L457.82,192.76 L458.61,192.35 L459.40,192.00 L460.10,192.46 L460.80,192.32 L461.50,191.61 L462.20,191.63 L462.90,191.35 L463.60,191.28 L464.30,191.13 L465.00,191.34 L465.70,191.50 L466.48,191.41 L467.26,190.55 L468.04,191.10 L468.82,190.52 L469.60,190.50 L470.40,189.20 L471.20,191.00 L471.97,191.22 L472.73,192.22 L473.50,192.30 L474.30,191.83 L475.10,191.20 L475.90,190.93 L476.70,190.73 L477.50,189.56 L478.30,189.60 L480.00,191.00 L480.74,191.44 L481.48,190.30 L482.21,191.01 L482.95,191.03 L483.69,190.03 L484.42,190.79 L485.16,190.24 L485.90,190.30 L486.64,190.21 L487.38,189.41 L488.11,189.28 L488.85,189.25 L489.59,189.93 L490.32,188.92 L491.06,189.36 L491.80,188.90 L492.54,189.45 L493.27,189.54 L494.01,188.95 L494.75,189.04 L495.49,189.30 L496.23,189.65 L496.96,188.99 L497.70,189.50 L498.45,189.67 L499.20,189.63 L499.95,189.60 L500.70,189.10 L501.50,186.30 L502.40,188.30 L503.20,187.89 L504.00,188.99 L504.80,188.15 L505.60,188.52 L506.40,188.92 L507.20,188.90 L507.94,189.33 L508.68,188.67 L509.41,189.29 L510.15,188.85 L510.89,188.57 L511.62,188.55 L512.36,188.37 L513.10,188.70 L513.84,188.19 L514.58,188.21 L515.31,188.76 L516.05,189.05 L516.79,188.08 L517.52,187.90 L518.26,188.89 L519.00,188.30 L519.70,188.26 L520.40,188.04 L521.10,187.77 L521.80,188.08 L522.50,187.90 L523.90,185.30 L524.90,187.70 L525.68,188.26 L526.47,188.05 L527.25,188.21 L528.03,188.01 L528.82,189.16 L529.60,188.90 L530.38,188.29 L531.17,188.69 L531.95,188.97 L532.73,188.09 L533.52,188.65 L534.30,188.30 L535.07,188.42 L535.85,187.69 L536.62,187.49 L537.40,186.80 L538.17,185.87 L538.93,185.73 L539.70,185.30 L541.50,186.80 L542.30,186.25 L543.10,186.85 L543.90,186.30 L545.10,186.30 L545.60,183.30 L546.80,186.00 L547.54,185.81 L548.27,186.02 L549.01,186.66 L549.75,186.54 L550.49,186.71 L551.23,186.17 L551.96,186.25 L552.70,186.30 L553.44,186.48 L554.18,186.13 L554.91,185.85 L555.65,185.89 L556.39,185.54 L557.12,185.71 L557.86,186.31 L558.60,185.70 L559.32,186.33 L560.04,186.08 L560.76,186.06 L561.48,186.00 L562.20,186.30 L562.90,185.85 L563.60,186.05 L564.30,186.61 L565.00,186.70 L565.70,186.30 L566.90,184.50 L568.30,180.30 L569.20,186.00 L570.00,186.18 L570.80,186.98 L571.60,187.30 L572.40,187.55 L573.20,187.85 L574.00,188.00 L574.74,188.51 L575.48,188.30 L576.21,188.90 L576.95,188.66 L577.69,189.11 L578.42,189.65 L579.16,189.78 L579.90,189.80 L580.60,189.53 L581.30,190.21 L582.00,189.84 L582.70,189.73 L583.40,189.60 L584.10,188.86 L584.80,189.25 L585.50,188.73 L586.20,188.99 L586.90,188.60 L587.65,188.91 L588.40,189.65 L589.15,189.81 L589.90,190.00 L591.80,189.50 L592.40,186.80 L593.00,189.60 L593.82,189.97 L594.64,189.51 L595.46,189.88 L596.28,190.02 L597.10,189.80 L597.80,190.28 L598.50,189.88 L599.20,190.54 L599.90,190.69 L600.60,190.40 L601.32,190.45 L602.04,190.60 L602.76,190.42 L603.48,189.78 L604.20,189.60 L604.98,189.47 L605.77,188.90 L606.55,189.47 L607.33,189.41 L608.12,188.74 L608.90,188.60 L609.72,188.57 L610.54,188.36 L611.36,188.13 L612.18,187.28 L613.00,187.40 L613.60,186.00 L614.20,187.60 L614.95,188.01 L615.70,187.89 L616.45,188.08 L617.20,188.00 L617.93,187.84 L618.65,187.99 L619.38,188.08 L620.10,187.70 L621.30,182.10 L622.50,180.90 L624.20,182.50 L625.00,182.92 L625.80,183.28 L626.60,183.30 L628.40,184.50 L629.12,184.36 L629.85,184.88 L630.57,185.56 L631.30,186.00 L632.10,186.33 L632.90,186.02 L633.70,186.50 L634.40,186.46 L635.10,186.16 L635.80,185.28 L636.50,185.51 L637.20,185.30 L637.92,184.84 L638.64,184.49 L639.36,184.42 L640.08,184.46 L640.80,184.50 L641.54,184.15 L642.28,184.16 L643.02,183.99 L643.76,184.46 L644.50,184.50 L645.30,184.67 L646.10,185.22 L646.90,185.50 L647.70,185.70 L648.50,185.50 L648.90,179.20 L649.40,185.10 L650.20,185.11 L651.00,186.14 L651.80,186.00 L653.00,183.30 L654.50,184.00 L654.80,180.90 L655.30,186.80 L657.10,185.70 L658.90,183.90 L660.70,186.30 L661.47,185.15 L662.23,185.00 L663.00,184.50 L664.50,184.00 L665.00,182.50 L666.60,186.30 L667.37,186.82 L668.13,187.73 L668.90,188.60 L670.50,186.00 L671.90,188.60 L672.60,188.46 L673.30,189.52 L674.00,189.30 L674.70,189.21 L675.40,190.00 L676.27,190.52 L677.13,190.35 L678.00,191.20" fill="none" stroke="#dba527" stroke-width="1.1" stroke-linejoin="round"/>
<line x1="404.2" y1="54.9" x2="407.8" y2="79.5" stroke="#f01818" stroke-width="1.1"/>
<line x1="401.5" y1="69.7" x2="401.5" y2="73.6" stroke="#f01818" stroke-width="1.1"/>
<line x1="423.3" y1="73" x2="426" y2="85.5" stroke="#f01818" stroke-width="1.1"/>
<line x1="434.3" y1="72.5" x2="429.6" y2="86.8" stroke="#f01818" stroke-width="1.1"/>
<line x1="446.2" y1="74.4" x2="437.1" y2="88.2" stroke="#f01818" stroke-width="1.1"/>
<line x1="539.1" y1="68.3" x2="545.1" y2="90.2" stroke="#f01818" stroke-width="1.1"/>
<line x1="555.2" y1="74.8" x2="548.5" y2="87.3" stroke="#f01818" stroke-width="1.1"/>
<line x1="405.1" y1="152.2" x2="402.4" y2="178.8" stroke="#f01818" stroke-width="1.1"/>
<line x1="414.7" y1="139" x2="414.5" y2="188" stroke="#f01818" stroke-width="1.1"/>
<line x1="410.2" y1="162.4" x2="413.8" y2="186.5" stroke="#f01818" stroke-width="1.1"/>
<text x="414.7" y="21" font-size="10" fill="#ff0a0a" stroke="#ff0a0a" stroke-width="0.3" text-anchor="middle">9</text>
<text x="410.5" y="33.6" font-size="10" fill="#111" stroke="#111" stroke-width="0.3" text-anchor="middle">8</text>
<text x="423.3" y="29.2" font-size="10" fill="#111" stroke="#111" stroke-width="0.3" text-anchor="middle">10</text>
<text x="404.1" y="49.4" font-size="10" fill="#111" stroke="#111" stroke-width="0.3" text-anchor="middle">4</text>
<text x="398.6" y="59.9" font-size="10" fill="#111" stroke="#111" stroke-width="0.3" text-anchor="middle">1</text>
<text x="402.7" y="69.4" font-size="7" fill="#111" stroke="#111" stroke-width="0.3" text-anchor="middle">2</text>
<text x="403.8" y="77.9" font-size="7" fill="#111" stroke="#111" stroke-width="0.3" text-anchor="middle">3</text>
<text x="409.7" y="64.2" font-size="10" fill="#111" stroke="#111" stroke-width="0.3" text-anchor="middle">5</text>
<text x="411.6" y="77.2" font-size="7" fill="#111" stroke="#111" stroke-width="0.3" text-anchor="middle">7</text>
<text x="411.6" y="84.3" font-size="5.5" fill="#111" stroke="#111" stroke-width="0.3" text-anchor="middle">6</text>
<text x="423.3" y="70.9" font-size="10" fill="#111" stroke="#111" stroke-width="0.3" text-anchor="middle">11</text>
<text x="437.9" y="69.8" font-size="10" fill="#111" stroke="#111" stroke-width="0.3" text-anchor="middle">12</text>
<text x="451.7" y="72.2" font-size="10" fill="#111" stroke="#111" stroke-width="0.3" text-anchor="middle">13</text>
<text x="446.3" y="93.6" font-size="10" fill="#111" stroke="#111" stroke-width="0.3" text-anchor="middle">14</text>
<text x="457.6" y="89.2" font-size="10" fill="#111" stroke="#111" stroke-width="0.3" text-anchor="middle">15</text>
<text x="475.4" y="90.6" font-size="10" fill="#111" stroke="#111" stroke-width="0.3" text-anchor="middle">16</text>
<text x="500.5" y="89.7" font-size="10" fill="#111" stroke="#111" stroke-width="0.3" text-anchor="middle">17</text>
<text x="524.9" y="82.9" font-size="10" fill="#111" stroke="#111" stroke-width="0.3" text-anchor="middle">18</text>
<text x="535.2" y="89.2" font-size="10" fill="#111" stroke="#111" stroke-width="0.3" text-anchor="middle">19</text>
<text x="539.5" y="64.8" font-size="10" fill="#111" stroke="#111" stroke-width="0.3" text-anchor="middle">20</text>
<text x="556.6" y="71" font-size="10" fill="#111" stroke="#111" stroke-width="0.3" text-anchor="middle">21</text>
<text x="559.6" y="89.7" font-size="10" fill="#111" stroke="#111" stroke-width="0.3" text-anchor="middle">22</text>
<text x="592.4" y="91.9" font-size="10" fill="#111" stroke="#111" stroke-width="0.3" text-anchor="middle">23</text>
<text x="623.1" y="88.9" font-size="10" fill="#ff0a0a" stroke="#ff0a0a" stroke-width="0.3" text-anchor="middle">24</text>
<text x="400.4" y="137.3" font-size="10" fill="#111" stroke="#111" stroke-width="0.3" text-anchor="middle">1</text>
<text x="414" y="137.8" font-size="10" fill="#ff0a0a" stroke="#ff0a0a" stroke-width="0.3" text-anchor="middle">6</text>
<text x="419.6" y="147.6" font-size="10" fill="#111" stroke="#111" stroke-width="0.3" text-anchor="middle">7</text>
<text x="405.5" y="149.4" font-size="10" fill="#111" stroke="#111" stroke-width="0.3" text-anchor="middle">2</text>
<text x="409.9" y="161.4" font-size="10" fill="#111" stroke="#111" stroke-width="0.3" text-anchor="middle">5</text>
<text x="408.1" y="175" font-size="10" fill="#111" stroke="#111" stroke-width="0.3" text-anchor="middle">4</text>
<text x="405.5" y="182.7" font-size="10" fill="#111" stroke="#111" stroke-width="0.3" text-anchor="middle">3</text>
<text x="470.4" y="186" font-size="10" fill="#111" stroke="#111" stroke-width="0.3" text-anchor="middle">8</text>
<text x="501.5" y="182.4" font-size="10" fill="#111" stroke="#111" stroke-width="0.3" text-anchor="middle">9</text>
<text x="524.3" y="181.8" font-size="10" fill="#111" stroke="#111" stroke-width="0.3" text-anchor="middle">10</text>
<text x="546.2" y="178" font-size="10" fill="#111" stroke="#111" stroke-width="0.3" text-anchor="middle">11</text>
<text x="568.5" y="176.8" font-size="10" fill="#111" stroke="#111" stroke-width="0.3" text-anchor="middle">12</text>
<text x="591.8" y="183.2" font-size="10" fill="#111" stroke="#111" stroke-width="0.3" text-anchor="middle">13</text>
<text x="613.2" y="183.9" font-size="10" fill="#111" stroke="#111" stroke-width="0.3" text-anchor="middle">14</text>
<text x="624.2" y="178" font-size="10" fill="#ff0a0a" stroke="#ff0a0a" stroke-width="0.3" text-anchor="middle">15</text>
<text x="642.5" y="180.1" font-size="10" fill="#ff0a0a" stroke="#ff0a0a" stroke-width="0.3" text-anchor="middle">16</text>
</svg>
</body></html>
